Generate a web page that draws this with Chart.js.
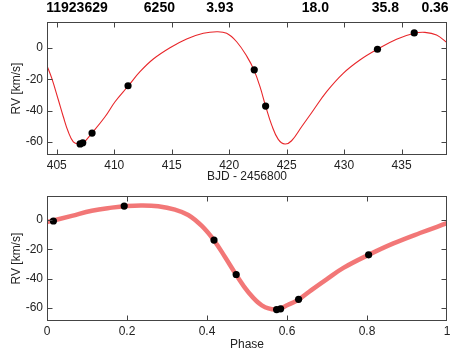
<!DOCTYPE html>
<html>
<head>
<meta charset="utf-8">
<script src="https://cdn.jsdelivr.net/npm/chart.js@4.4.1/dist/chart.umd.min.js"></script>
<style>
  body { margin: 0; background: #fff; }
  #topBox { position: absolute; left: 0; top: 0; width: 471px; height: 185px; }
  #botBox { position: absolute; left: 0; top: 185px; width: 471px; height: 168px; }
</style>
</head>
<body>
<div id="topBox"><canvas id="timeChart"></canvas></div>
<div id="botBox"><canvas id="phaseChart"></canvas></div>
<script>
// header values (KIC, Teff, logg, P, K, e)
var headerLabels = ['11923629', '6250', '3.93', '18.0', '35.8', '0.36'];

// observed RVs vs time
var obsDays = [407.03, 407.26, 408.07, 411.2, 422.18, 423.17, 432.9, 436.1];
var obsRV   = [-61.2, -60.5, -54.3, -24.1, -13.9, -37.1, -0.8, 9.6];

// orbit model
var modelDays = [404.13, 404.57, 405.14, 405.57, 406.0, 406.44, 406.88, 407.31, 408.04, 409.2,
                 410.07, 411.23, 412.24, 413.4, 414.85, 416.3, 417.75, 418.91, 419.78, 420.65,
                 421.55, 422.16, 422.68, 423.17, 423.7, 424.27, 424.85, 425.43, 426.3, 427.2,
                 428.48, 429.92, 431.37, 432.9, 434.56, 436.1, 437.03, 438.04, 438.95];
var modelRV   = [-10.9, -19.4, -33.2, -43.9, -53.5, -59.9, -61.3, -60.5, -54.5, -43.9,
                 -34.3, -24.1, -15.1, -7.0, 0.2, 5.8, 9.4, 10.4, 9.4, 4.0,
                 -5.5, -14.1, -24.7, -37.1, -49.2, -58.3, -61.3, -59.2, -50.3, -41.0,
                 -27.9, -16.2, -7.7, -0.8, 5.6, 9.4, 10.0, 8.3, 3.4];

// observed RVs vs phase
var obsPhase   = [0.016, 0.193, 0.4175, 0.473, 0.574, 0.584, 0.629, 0.804];
var obsPhaseRV = [-0.7, 9.5, -13.7, -37.2, -61.1, -60.6, -54.1, -23.8];

// orbit model
var modelPhase   = [0.0, 0.062, 0.112, 0.162, 0.2, 0.237, 0.278, 0.32, 0.353, 0.387,
                    0.4175, 0.445, 0.4725, 0.503, 0.537, 0.5725, 0.603, 0.63, 0.66, 0.699,
                    0.741, 0.804, 0.866, 0.9325, 1.0];
var modelPhaseRV = [-1.5, 2.8, 6.3, 8.4, 9.5, 9.9, 9.3, 7.0, 3.4, -4.1,
                    -13.9, -25.3, -37.2, -49.1, -58.2, -61.0, -57.8, -54.1, -48.0, -40.5,
                    -32.7, -23.8, -16.0, -8.9, -2.2];

function toPoints(xs, ys) {
  var pts = [];
  for (var i = 0; i < xs.length; i++) {
    pts.push({x: xs[i], y: ys[i]});
  }
  return pts;
}

var FONT = "'Liberation Sans', Arial, Helvetica, sans-serif";

// box round the plot with inward ticks on all four sides
var framePlugin = {
  id: 'frame',
  afterDraw: function(chart) {
    var ctx = chart.ctx, a = chart.chartArea;
    var xs = chart.scales.x, ys = chart.scales.y;
    var L = Math.round(a.left) + 0.5, R = Math.round(a.right) - 0.5;
    var T = Math.round(a.top) + 0.5, B = Math.round(a.bottom) - 0.5;
    ctx.save();
    ctx.strokeStyle = '#444';
    ctx.lineWidth = 1;
    ctx.strokeRect(L, T, R - L, B - T);
    ctx.beginPath();
    xs.ticks.forEach(function(t) {
      var px = Math.round(xs.getPixelForValue(t.value)) + 0.5;
      px = Math.min(Math.max(px, L), R);
      ctx.moveTo(px, B); ctx.lineTo(px, B - 5);
      ctx.moveTo(px, T); ctx.lineTo(px, T + 5);
    });
    ys.ticks.forEach(function(t) {
      var py = Math.round(ys.getPixelForValue(t.value)) + 0.5;
      ctx.moveTo(L, py); ctx.lineTo(L + 5, py);
      ctx.moveTo(R, py); ctx.lineTo(R - 5, py);
    });
    ctx.stroke();
    ctx.restore();
  }
};

// where the header values sit, as a fraction of the plot width
var headerPos = [0.075, 0.281, 0.432, 0.671, 0.846, 0.97];
var headerPlugin = {
  id: 'header',
  afterDraw: function(chart) {
    var ctx = chart.ctx, a = chart.chartArea;
    ctx.save();
    ctx.fillStyle = '#000';
    ctx.font = 'bold 14px ' + FONT;
    ctx.textAlign = 'center';
    ctx.textBaseline = 'middle';
    for (var i = 0; i < headerLabels.length; i++) {
      ctx.fillText(headerLabels[i], a.left + headerPos[i] * (a.right - a.left), 8);
    }
    ctx.restore();
  }
};

function axisX(min, max, step, title, h, titlePad, fmt) {
  var t = {
    type: 'linear', min: min, max: max,
    grid: {display: false, drawTicks: false}, border: {display: false},
    ticks: {stepSize: step, includeBounds: false, padding: 3, maxRotation: 0,
            color: '#222', font: {family: FONT, size: 12}},
    title: {display: true, text: title, color: '#222', padding: {top: 0, bottom: titlePad},
            font: {family: FONT, size: 12}},
    afterFit: function(s) { s.height = h; }
  };
  if (fmt) t.ticks.callback = fmt;
  return t;
}

function axisY(min, max) {
  return {
    type: 'linear', min: min, max: max,
    grid: {display: false, drawTicks: false}, border: {display: false},
    ticks: {stepSize: 20, includeBounds: false, padding: 4,
            color: '#222', font: {family: FONT, size: 12}},
    title: {display: true, text: 'RV [km/s]', color: '#222', padding: {top: 9, bottom: 0},
            font: {family: FONT, size: 12}},
    afterFit: function(s) { s.width = 47; }
  };
}

new Chart(document.getElementById('timeChart'), {
  type: 'scatter',
  data: {
    datasets: [{
      data: toPoints(obsDays, obsRV),
      backgroundColor: '#000', borderColor: '#000',
      pointRadius: 3.6, pointBorderWidth: 0
    }, {
      data: toPoints(modelDays, modelRV),
      showLine: true, borderColor: '#e8262a', borderWidth: 1.1,
      pointRadius: 0, tension: 0.4
    }]
  },
  options: {
    responsive: true, maintainAspectRatio: false, animation: false,
    layout: {padding: {top: 22, right: 24, left: 0, bottom: 0}},
    plugins: {legend: {display: false}, tooltip: {enabled: false}},
    scales: {
      x: axisX(404.15, 438.95, 5, 'BJD - 2456800', 30, 1),
      y: axisY(-68.3, 16.6)
    }
  },
  plugins: [framePlugin, headerPlugin]
});

new Chart(document.getElementById('phaseChart'), {
  type: 'scatter',
  data: {
    datasets: [{
      data: toPoints(obsPhase, obsPhaseRV),
      backgroundColor: '#000', borderColor: '#000',
      pointRadius: 3.6, pointBorderWidth: 0
    }, {
      data: toPoints(modelPhase, modelPhaseRV),
      showLine: true, borderColor: 'rgba(240,95,95,0.85)', borderWidth: 4.5,
      pointRadius: 0, tension: 0.4
    }]
  },
  options: {
    responsive: true, maintainAspectRatio: false, animation: false,
    layout: {padding: {top: 5, right: 24, left: 0, bottom: 0}},
    plugins: {legend: {display: false}, tooltip: {enabled: false}},
    scales: {
      x: axisX(0, 1, 0.2, 'Phase', 32, 1.5, function(v) { return String(+v.toFixed(1)); }),
      y: axisY(-68.9, 16.2)
    }
  },
  plugins: [framePlugin]
});
</script>
</body>
</html>
